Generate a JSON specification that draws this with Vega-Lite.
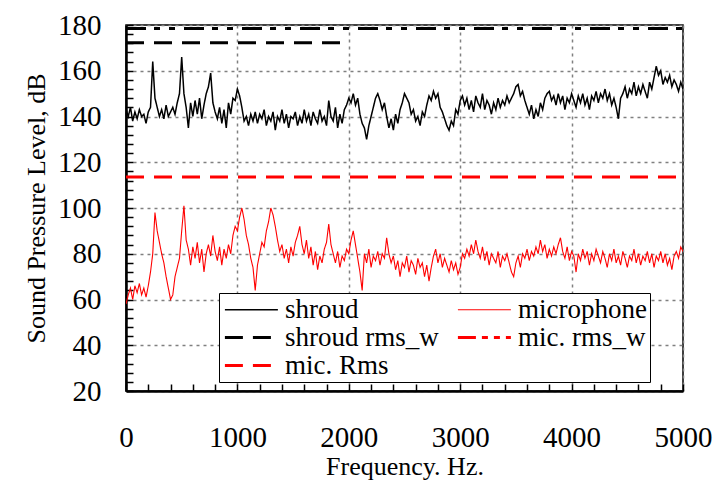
{
  "$schema": "https://vega.github.io/schema/vega-lite/v6.json",
  "width": 557,
  "height": 366,
  "autosize": {"type": "none"},
  "padding": {"left": 126, "top": 25, "right": 31, "bottom": 100},
  "background": "white",
  "config": {
    "font": "Liberation Serif",
    "view": {"stroke": "black", "strokeWidth": 1.5},
    "axis": {
      "labelFont": "Liberation Serif",
      "titleFont": "Liberation Serif",
      "labelFontSize": 29,
      "titleFontSize": 26,
      "titleFontWeight": "normal",
      "labelColor": "black",
      "titleColor": "black",
      "domainColor": "black",
      "domainWidth": 2.5,
      "tickColor": "black",
      "tickWidth": 1.5,
      "tickSize": -7,
      "tickCount": 200,
      "gridColor": "#808080",
      "gridDash": [3, 4],
      "gridWidth": 1.5,
      "labelOverlap": false,
      "labelFlush": false
    },
    "legend": {
      "labelFont": "Liberation Serif",
      "labelFontSize": 27,
      "labelColor": "black"
    }
  },
  "datasets": {
    "spectra": [
      {"f":0,"shroud":143,"microphone":58},{"f":20,"shroud":140,"microphone":62},{"f":40,"shroud":144,"microphone":65},{"f":60,"shroud":138,"microphone":60},{"f":80,"shroud":142,"microphone":66},
      {"f":100,"shroud":139,"microphone":63},{"f":120,"shroud":143,"microphone":67},{"f":140,"shroud":140,"microphone":62},{"f":160,"shroud":141,"microphone":65},{"f":180,"shroud":137,"microphone":61},
      {"f":200,"shroud":142,"microphone":66},{"f":220,"shroud":144,"microphone":72},{"f":240,"shroud":164,"microphone":80},{"f":260,"shroud":148,"microphone":98},{"f":280,"shroud":144,"microphone":90},
      {"f":300,"shroud":140,"microphone":85},{"f":320,"shroud":143,"microphone":80},{"f":340,"shroud":139,"microphone":76},{"f":360,"shroud":145,"microphone":70},{"f":380,"shroud":140,"microphone":65},
      {"f":400,"shroud":142,"microphone":60},{"f":420,"shroud":144,"microphone":62},{"f":440,"shroud":141,"microphone":70},{"f":460,"shroud":146,"microphone":74},{"f":480,"shroud":150,"microphone":78},
      {"f":500,"shroud":166,"microphone":90},{"f":520,"shroud":150,"microphone":101},{"f":540,"shroud":144,"microphone":86},{"f":560,"shroud":135,"microphone":82},{"f":580,"shroud":146,"microphone":75},
      {"f":600,"shroud":140,"microphone":83},{"f":620,"shroud":147,"microphone":78},{"f":640,"shroud":141,"microphone":85},{"f":660,"shroud":148,"microphone":76},{"f":680,"shroud":139,"microphone":82},
      {"f":700,"shroud":145,"microphone":72},{"f":720,"shroud":150,"microphone":80},{"f":740,"shroud":153,"microphone":84},{"f":760,"shroud":159,"microphone":79},{"f":780,"shroud":146,"microphone":88},
      {"f":800,"shroud":142,"microphone":81},{"f":820,"shroud":139,"microphone":77},{"f":840,"shroud":144,"microphone":83},{"f":860,"shroud":137,"microphone":75},{"f":880,"shroud":143,"microphone":82},
      {"f":900,"shroud":135,"microphone":78},{"f":920,"shroud":146,"microphone":84},{"f":940,"shroud":141,"microphone":80},{"f":960,"shroud":148,"microphone":88},{"f":980,"shroud":147,"microphone":92},
      {"f":1000,"shroud":152,"microphone":90},{"f":1020,"shroud":149,"microphone":96},{"f":1040,"shroud":144,"microphone":100},{"f":1060,"shroud":138,"microphone":95},{"f":1080,"shroud":140,"microphone":88},
      {"f":1100,"shroud":136,"microphone":84},{"f":1120,"shroud":141,"microphone":78},{"f":1140,"shroud":138,"microphone":74},{"f":1160,"shroud":142,"microphone":64},{"f":1180,"shroud":137,"microphone":75},
      {"f":1200,"shroud":141,"microphone":80},{"f":1220,"shroud":139,"microphone":85},{"f":1240,"shroud":143,"microphone":83},{"f":1260,"shroud":136,"microphone":90},{"f":1280,"shroud":140,"microphone":94},
      {"f":1300,"shroud":138,"microphone":100},{"f":1320,"shroud":142,"microphone":97},{"f":1340,"shroud":134,"microphone":92},{"f":1360,"shroud":140,"microphone":86},{"f":1380,"shroud":138,"microphone":81},
      {"f":1400,"shroud":143,"microphone":84},{"f":1420,"shroud":137,"microphone":78},{"f":1440,"shroud":141,"microphone":82},{"f":1460,"shroud":135,"microphone":76},{"f":1480,"shroud":140,"microphone":83},
      {"f":1500,"shroud":139,"microphone":79},{"f":1520,"shroud":142,"microphone":85},{"f":1540,"shroud":136,"microphone":88},{"f":1560,"shroud":140,"microphone":92},{"f":1580,"shroud":137,"microphone":84},
      {"f":1600,"shroud":143,"microphone":80},{"f":1620,"shroud":138,"microphone":86},{"f":1640,"shroud":141,"microphone":78},{"f":1660,"shroud":136,"microphone":83},{"f":1680,"shroud":142,"microphone":75},
      {"f":1700,"shroud":139,"microphone":81},{"f":1720,"shroud":137,"microphone":73},{"f":1740,"shroud":143,"microphone":79},{"f":1760,"shroud":138,"microphone":76},{"f":1780,"shroud":140,"microphone":82},
      {"f":1800,"shroud":136,"microphone":85},{"f":1820,"shroud":147,"microphone":93},{"f":1840,"shroud":140,"microphone":84},{"f":1860,"shroud":138,"microphone":80},{"f":1880,"shroud":144,"microphone":76},
      {"f":1900,"shroud":135,"microphone":81},{"f":1920,"shroud":141,"microphone":74},{"f":1940,"shroud":137,"microphone":79},{"f":1960,"shroud":143,"microphone":77},{"f":1980,"shroud":145,"microphone":82},
      {"f":2000,"shroud":148,"microphone":80},{"f":2020,"shroud":146,"microphone":86},{"f":2040,"shroud":150,"microphone":90},{"f":2060,"shroud":145,"microphone":84},{"f":2080,"shroud":148,"microphone":78},
      {"f":2100,"shroud":141,"microphone":72},{"f":2120,"shroud":137,"microphone":64},{"f":2140,"shroud":135,"microphone":80},{"f":2160,"shroud":130,"microphone":76},{"f":2180,"shroud":136,"microphone":82},
      {"f":2200,"shroud":140,"microphone":74},{"f":2220,"shroud":144,"microphone":79},{"f":2240,"shroud":148,"microphone":77},{"f":2260,"shroud":150,"microphone":81},{"f":2280,"shroud":147,"microphone":75},
      {"f":2300,"shroud":143,"microphone":80},{"f":2320,"shroud":146,"microphone":78},{"f":2340,"shroud":140,"microphone":87},{"f":2360,"shroud":135,"microphone":80},{"f":2380,"shroud":139,"microphone":76},
      {"f":2400,"shroud":134,"microphone":79},{"f":2420,"shroud":141,"microphone":73},{"f":2440,"shroud":137,"microphone":77},{"f":2460,"shroud":143,"microphone":70},{"f":2480,"shroud":146,"microphone":76},
      {"f":2500,"shroud":150,"microphone":74},{"f":2520,"shroud":148,"microphone":79},{"f":2540,"shroud":146,"microphone":72},{"f":2560,"shroud":141,"microphone":77},{"f":2580,"shroud":143,"microphone":75},
      {"f":2600,"shroud":138,"microphone":71},{"f":2620,"shroud":140,"microphone":78},{"f":2640,"shroud":136,"microphone":74},{"f":2660,"shroud":142,"microphone":76},{"f":2680,"shroud":140,"microphone":70},
      {"f":2700,"shroud":145,"microphone":75},{"f":2720,"shroud":149,"microphone":68},{"f":2740,"shroud":147,"microphone":74},{"f":2760,"shroud":151,"microphone":79},{"f":2780,"shroud":148,"microphone":82},
      {"f":2800,"shroud":150,"microphone":76},{"f":2820,"shroud":144,"microphone":80},{"f":2840,"shroud":142,"microphone":74},{"f":2860,"shroud":139,"microphone":78},{"f":2880,"shroud":136,"microphone":75},
      {"f":2900,"shroud":134,"microphone":72},{"f":2920,"shroud":138,"microphone":77},{"f":2940,"shroud":136,"microphone":73},{"f":2960,"shroud":143,"microphone":76},{"f":2980,"shroud":141,"microphone":71},
      {"f":3000,"shroud":147,"microphone":74},{"f":3020,"shroud":149,"microphone":80},{"f":3040,"shroud":145,"microphone":78},{"f":3060,"shroud":148,"microphone":82},{"f":3080,"shroud":143,"microphone":79},
      {"f":3100,"shroud":147,"microphone":84},{"f":3120,"shroud":142,"microphone":80},{"f":3140,"shroud":149,"microphone":86},{"f":3160,"shroud":146,"microphone":81},{"f":3180,"shroud":144,"microphone":78},
      {"f":3200,"shroud":150,"microphone":83},{"f":3220,"shroud":143,"microphone":77},{"f":3240,"shroud":147,"microphone":81},{"f":3260,"shroud":145,"microphone":75},{"f":3280,"shroud":141,"microphone":80},
      {"f":3300,"shroud":146,"microphone":78},{"f":3320,"shroud":143,"microphone":76},{"f":3340,"shroud":148,"microphone":81},{"f":3360,"shroud":144,"microphone":74},{"f":3380,"shroud":147,"microphone":79},
      {"f":3400,"shroud":145,"microphone":77},{"f":3420,"shroud":149,"microphone":80},{"f":3440,"shroud":146,"microphone":76},{"f":3460,"shroud":148,"microphone":72},{"f":3480,"shroud":150,"microphone":70},
      {"f":3500,"shroud":153,"microphone":76},{"f":3520,"shroud":154,"microphone":79},{"f":3540,"shroud":149,"microphone":74},{"f":3560,"shroud":151,"microphone":80},{"f":3580,"shroud":147,"microphone":78},
      {"f":3600,"shroud":144,"microphone":82},{"f":3620,"shroud":141,"microphone":77},{"f":3640,"shroud":145,"microphone":81},{"f":3660,"shroud":139,"microphone":79},{"f":3680,"shroud":143,"microphone":83},
      {"f":3700,"shroud":140,"microphone":80},{"f":3720,"shroud":146,"microphone":86},{"f":3740,"shroud":143,"microphone":81},{"f":3760,"shroud":148,"microphone":84},{"f":3780,"shroud":150,"microphone":78},
      {"f":3800,"shroud":151,"microphone":82},{"f":3820,"shroud":147,"microphone":79},{"f":3840,"shroud":149,"microphone":83},{"f":3860,"shroud":145,"microphone":80},{"f":3880,"shroud":150,"microphone":84},
      {"f":3900,"shroud":146,"microphone":87},{"f":3920,"shroud":149,"microphone":81},{"f":3940,"shroud":143,"microphone":78},{"f":3960,"shroud":148,"microphone":83},{"f":3980,"shroud":146,"microphone":77},
      {"f":4000,"shroud":150,"microphone":81},{"f":4020,"shroud":147,"microphone":79},{"f":4040,"shroud":144,"microphone":72},{"f":4060,"shroud":149,"microphone":80},{"f":4080,"shroud":146,"microphone":77},
      {"f":4100,"shroud":150,"microphone":82},{"f":4120,"shroud":145,"microphone":78},{"f":4140,"shroud":148,"microphone":81},{"f":4160,"shroud":143,"microphone":75},{"f":4180,"shroud":149,"microphone":80},
      {"f":4200,"shroud":147,"microphone":77},{"f":4220,"shroud":151,"microphone":82},{"f":4240,"shroud":146,"microphone":79},{"f":4260,"shroud":150,"microphone":76},{"f":4280,"shroud":148,"microphone":81},
      {"f":4300,"shroud":152,"microphone":78},{"f":4320,"shroud":147,"microphone":74},{"f":4340,"shroud":150,"microphone":80},{"f":4360,"shroud":145,"microphone":77},{"f":4380,"shroud":148,"microphone":82},
      {"f":4400,"shroud":144,"microphone":76},{"f":4420,"shroud":139,"microphone":79},{"f":4440,"shroud":148,"microphone":75},{"f":4460,"shroud":150,"microphone":81},{"f":4480,"shroud":153,"microphone":78},
      {"f":4500,"shroud":148,"microphone":74},{"f":4520,"shroud":152,"microphone":79},{"f":4540,"shroud":150,"microphone":77},{"f":4560,"shroud":155,"microphone":82},{"f":4580,"shroud":149,"microphone":76},
      {"f":4600,"shroud":153,"microphone":80},{"f":4620,"shroud":150,"microphone":75},{"f":4640,"shroud":154,"microphone":79},{"f":4660,"shroud":151,"microphone":77},{"f":4680,"shroud":148,"microphone":81},
      {"f":4700,"shroud":155,"microphone":76},{"f":4720,"shroud":152,"microphone":80},{"f":4740,"shroud":157,"microphone":74},{"f":4760,"shroud":162,"microphone":79},{"f":4780,"shroud":158,"microphone":77},
      {"f":4800,"shroud":160,"microphone":81},{"f":4820,"shroud":154,"microphone":76},{"f":4840,"shroud":157,"microphone":80},{"f":4860,"shroud":155,"microphone":75},{"f":4880,"shroud":158,"microphone":78},
      {"f":4900,"shroud":153,"microphone":73},{"f":4920,"shroud":156,"microphone":79},{"f":4940,"shroud":154,"microphone":81},{"f":4960,"shroud":151,"microphone":78},{"f":4980,"shroud":155,"microphone":83},
      {"f":5000,"shroud":152,"microphone":81}
    ],
    "levels": [
      {"series": "shroud rms_w", "f": 0, "dB": 172.2},
      {"series": "shroud rms_w", "f": 1950, "dB": 172.2},
      {"series": "mic. Rms", "f": 0, "dB": 113.5},
      {"series": "mic. Rms", "f": 5000, "dB": 113.5}
    ],
    "topline": [
      {"f": 0, "dB": 178.5},
      {"f": 5000, "dB": 178.5}
    ]
  },
  "layer": [
    {
      "data": {"name": "spectra"},
      "transform": [{"fold": ["shroud", "microphone"], "as": ["series", "dB"]}],
      "mark": {"type": "line", "clip": true},
      "encoding": {
        "x": {
          "field": "f", "type": "quantitative",
          "scale": {"domain": [0, 5000], "nice": false, "zero": false},
          "axis": {
            "title": "Frequency. Hz.",
            "values": [0,200,400,600,800,1000,1200,1400,1600,1800,2000,2200,2400,2600,2800,3000,3200,3400,3600,3800,4000,4200,4400,4600,4800,5000],
            "tickCount": 200,
            "format": "d",
            "labelOverlap": false,
            "labelFlush": false,
            "labelExpr": "datum.value % 1000 === 0 ? datum.label : ''",
            "gridOpacity": {"condition": {"test": "datum.value % 1000 === 0", "value": 1}, "value": 0},
            "labelPadding": 39,
            "titlePadding": 1
          }
        },
        "y": {
          "field": "dB", "type": "quantitative",
          "scale": {"domain": [20, 180], "nice": false, "zero": false},
          "axis": {
            "title": "Sound Pressure Level, dB",
            "values": [20,24,28,32,36,40,44,48,52,56,60,64,68,72,76,80,84,88,92,96,100,104,108,112,116,120,124,128,132,136,140,144,148,152,156,160,164,168,172,176,180],
            "tickCount": 200,
            "format": "d",
            "labelOverlap": false,
            "labelFlush": false,
            "labelExpr": "datum.value % 20 === 0 ? datum.label : ''",
            "gridOpacity": {"condition": {"test": "datum.value % 20 === 0", "value": 1}, "value": 0},
            "labelPadding": 32,
            "titlePadding": 8
          }
        },
        "color": {
          "field": "series", "type": "nominal",
          "scale": {
            "domain": ["shroud", "shroud rms_w", "mic. Rms", "microphone", "mic. rms_w"],
            "range": ["black", "black", "red", "red", "red"]
          },
          "legend": {
            "title": null,
            "orient": "none",
            "legendX": 93,
            "legendY": 268,
            "columns": 2,
            "columnPadding": 12,
            "rowPadding": 0,
            "symbolType": "M-1,0L4,0",
            "symbolSize": 449,
            "labelOffset": 36,
            "padding": 3,
            "strokeColor": "black",
            "fillColor": "white",
            "labelLimit": 300,
            "encode": {
              "symbols": {
                "update": {
                  "strokeWidth": {"signal": "datum.value === 'shroud' ? 1.5 : datum.value === 'microphone' ? 1.1 : 3"}
                }
              }
            }
          }
        },
        "strokeDash": {
          "field": "series", "type": "nominal",
          "scale": {
            "domain": ["shroud", "shroud rms_w", "mic. Rms", "microphone", "mic. rms_w"],
            "range": [[1, 0], [18, 10], [18, 10], [1, 0], [18, 6, 6, 6, 6, 6]]
          },
          "legend": {
            "title": null,
            "orient": "none",
            "legendX": 93,
            "legendY": 268,
            "columns": 2,
            "columnPadding": 12,
            "rowPadding": 0,
            "symbolType": "M-1,0L4,0",
            "symbolSize": 449,
            "labelOffset": 36,
            "padding": 3,
            "strokeColor": "black",
            "fillColor": "white",
            "labelLimit": 300,
            "encode": {
              "symbols": {
                "update": {
                  "strokeWidth": {"signal": "datum.value === 'shroud' ? 1.5 : datum.value === 'microphone' ? 1.1 : 3"}
                }
              }
            }
          }
        },
        "strokeWidth": {"condition": {"test": "datum.series === 'shroud'", "value": 1.5}, "value": 1.1}
      }
    },
    {
      "data": {"name": "levels"},
      "mark": {"type": "line", "clip": true, "strokeWidth": 3},
      "encoding": {
        "x": {"field": "f", "type": "quantitative"},
        "y": {"field": "dB", "type": "quantitative"},
        "color": {"field": "series", "type": "nominal"},
        "strokeDash": {"field": "series", "type": "nominal"}
      }
    },
    {
      "data": {"name": "topline"},
      "mark": {"type": "line", "color": "black", "strokeWidth": 3, "strokeDash": [20, 8, 6, 9, 6, 9], "clip": true},
      "encoding": {
        "x": {"field": "f", "type": "quantitative"},
        "y": {"field": "dB", "type": "quantitative"}
      }
    }
  ]
}
